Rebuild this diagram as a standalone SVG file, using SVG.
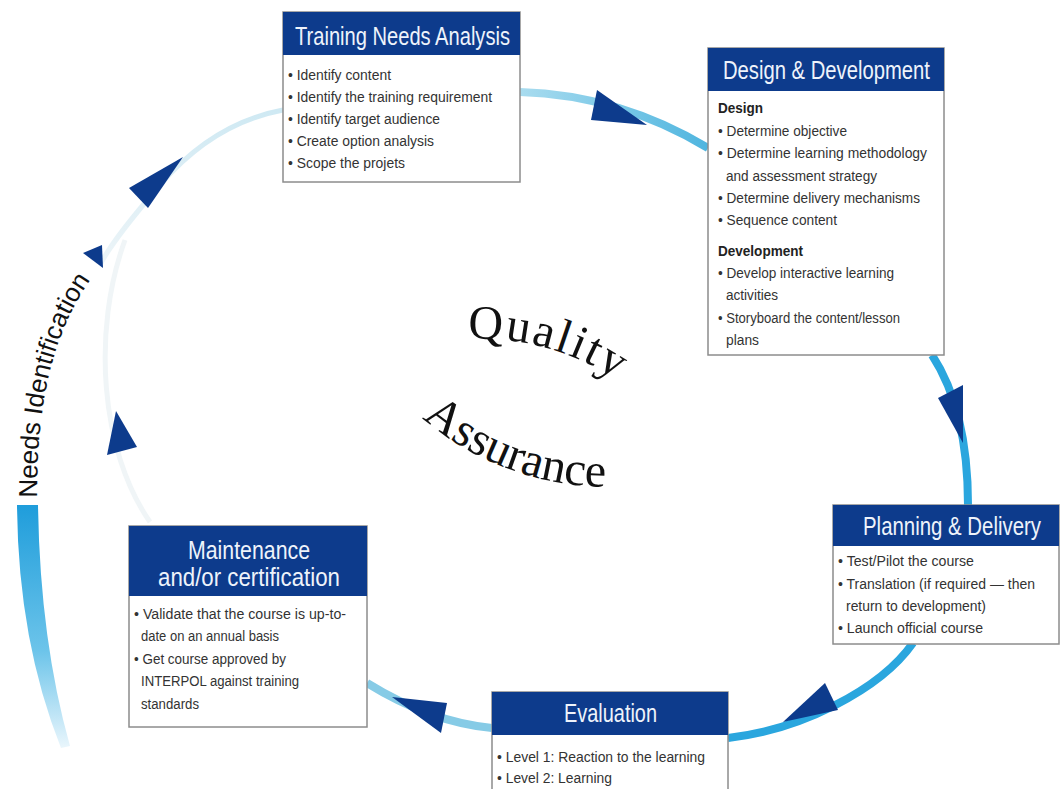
<svg xmlns="http://www.w3.org/2000/svg" width="1060" height="789" viewBox="0 0 1060 789">
<defs>
<style>
.box{fill:#ffffff;stroke:#8c8c8c;stroke-width:1.5}
.hdr{fill:#0d3b8c}
.ht{font-family:"Liberation Sans",Arial,sans-serif;fill:#eef3fb;font-size:25px}
.bt{font-family:"Liberation Sans",Arial,sans-serif;fill:#333333;font-size:15.5px}
.bb{font-family:"Liberation Sans",Arial,sans-serif;fill:#222222;font-size:15.5px;font-weight:bold}
.arr{fill:#0d3b8c}
.qa{font-family:"Liberation Serif","Times New Roman",serif;fill:#111;font-size:48px}
</style>
<linearGradient id="gTop" x1="520" y1="0" x2="708" y2="0" gradientUnits="userSpaceOnUse">
<stop offset="0" stop-color="#a9dcef"/><stop offset="1" stop-color="#4fb5df"/>
</linearGradient>
<linearGradient id="gBar" x1="0" y1="505" x2="0" y2="748" gradientUnits="userSpaceOnUse">
<stop offset="0" stop-color="#1f9ddb"/><stop offset="0.6" stop-color="#6cc4ea"/><stop offset="1" stop-color="#eaf6fc"/>
</linearGradient>
<linearGradient id="gFaint" x1="0" y1="110" x2="0" y2="270" gradientUnits="userSpaceOnUse">
<stop offset="0" stop-color="#cfe9f3"/><stop offset="1" stop-color="#eef5f8"/>
</linearGradient>
<path id="niPath" d="M 37,498 C 37,400 52,320 110,255"/>
<path id="qPath" d="M 468,339 A 250 250 0 0 1 660,416"/>
<path id="aPath" d="M 422,418 A 285 285 0 0 0 640,485"/>
</defs>
<rect width="1060" height="789" fill="#ffffff"/>

<g id="connectors">
<path d="M 283,110 C 230,120 190,150 160,185 C 130,220 110,245 100,265" fill="none" stroke="url(#gFaint)" stroke-width="5"/>
<path d="M 150,522 C 100,450 92,330 125,240" fill="none" stroke="#f0f5f7" stroke-width="5"/>
<path d="M 520,92 Q 620,95 708,148" fill="none" stroke="url(#gTop)" stroke-width="8"/>
<path d="M 932,355 Q 968,410 968,505" fill="none" stroke="#2aa6de" stroke-width="8"/>
<path d="M 913,643 C 880,690 800,730 728,738" fill="none" stroke="#2aa6de" stroke-width="8"/>
<path d="M 492,728 Q 430,722 367,683" fill="none" stroke="#86cbe6" stroke-width="8"/>
<path d="M 17,505 Q 18,640 61,748 L 70,746 Q 40,640 38,505 Z" fill="url(#gBar)"/>
<polygon class="arr" points="597,90 591,120 647,125"/>
<polygon class="arr" points="938,398 963,385 963,443"/>
<polygon class="arr" points="825,683 838,710 783,722"/>
<polygon class="arr" points="392,697 447,703 441,733"/>
<polygon class="arr" points="116,411 107,455 137,447"/>
<polygon class="arr" points="183,157 129,188 148,208"/>
<polygon class="arr" points="102,245 83,253 103,268"/>
<text font-family="'Liberation Sans',Arial,sans-serif" font-size="26" fill="#111"><textPath href="#niPath">Needs Identification</textPath></text>
</g>

<g id="qa-label">
<text class="qa" letter-spacing="2"><textPath href="#qPath">Quality</textPath></text>
<text class="qa"><textPath href="#aPath">Assurance</textPath></text>
</g>

<g id="training-needs-analysis">
<rect class="box" x="283" y="12" width="237" height="170"/>
<rect class="hdr" x="283" y="12" width="237" height="43"/>
<text class="ht" x="295" y="45" font-size="26" textLength="215" lengthAdjust="spacingAndGlyphs">Training Needs Analysis</text>
<text class="bt" x="288" y="80" textLength="103" lengthAdjust="spacingAndGlyphs">• Identify content</text>
<text class="bt" x="288" y="102" textLength="204" lengthAdjust="spacingAndGlyphs">• Identify the training requirement</text>
<text class="bt" x="288" y="124" textLength="152" lengthAdjust="spacingAndGlyphs">• Identify target audience</text>
<text class="bt" x="288" y="146" textLength="146" lengthAdjust="spacingAndGlyphs">• Create option analysis</text>
<text class="bt" x="288" y="168" textLength="117" lengthAdjust="spacingAndGlyphs">• Scope the projets</text>
</g>

<g id="design-development">
<rect class="box" x="708" y="48" width="236" height="307"/>
<rect class="hdr" x="708" y="48" width="236" height="43"/>
<text class="ht" x="723" y="79" textLength="207" lengthAdjust="spacingAndGlyphs">Design &amp; Development</text>
<text class="bb" x="718" y="113" textLength="45" lengthAdjust="spacingAndGlyphs">Design</text>
<text class="bt" x="718" y="136" textLength="129" lengthAdjust="spacingAndGlyphs">• Determine objective</text>
<text class="bt" x="718" y="158" textLength="209" lengthAdjust="spacingAndGlyphs">• Determine learning methodology</text>
<text class="bt" x="726" y="181" textLength="151" lengthAdjust="spacingAndGlyphs">and assessment strategy</text>
<text class="bt" x="718" y="203" textLength="202" lengthAdjust="spacingAndGlyphs">• Determine delivery mechanisms</text>
<text class="bt" x="718" y="225" textLength="119" lengthAdjust="spacingAndGlyphs">• Sequence content</text>
<text class="bb" x="718" y="256" textLength="85" lengthAdjust="spacingAndGlyphs">Development</text>
<text class="bt" x="718" y="278" textLength="176" lengthAdjust="spacingAndGlyphs">• Develop interactive learning</text>
<text class="bt" x="726" y="300" textLength="52" lengthAdjust="spacingAndGlyphs">activities</text>
<text class="bt" x="718" y="323" textLength="182" lengthAdjust="spacingAndGlyphs">• Storyboard the content/lesson</text>
<text class="bt" x="726" y="345" textLength="33" lengthAdjust="spacingAndGlyphs">plans</text>
</g>

<g id="planning-delivery">
<rect class="box" x="833" y="505" width="226" height="139"/>
<rect class="hdr" x="833" y="505" width="226" height="41"/>
<text class="ht" x="863" y="535" textLength="178" lengthAdjust="spacingAndGlyphs">Planning &amp; Delivery</text>
<text class="bt" x="838" y="566" textLength="136" lengthAdjust="spacingAndGlyphs">• Test/Pilot the course</text>
<text class="bt" x="838" y="589" textLength="197" lengthAdjust="spacingAndGlyphs">• Translation (if required — then</text>
<text class="bt" x="846" y="611" textLength="140" lengthAdjust="spacingAndGlyphs">return to development)</text>
<text class="bt" x="838" y="633" textLength="145" lengthAdjust="spacingAndGlyphs">• Launch official course</text>
</g>

<g id="evaluation">
<rect class="box" x="492" y="692" width="236" height="110"/>
<rect class="hdr" x="492" y="692" width="236" height="43"/>
<text class="ht" x="564" y="722" font-size="24" textLength="93" lengthAdjust="spacingAndGlyphs">Evaluation</text>
<text class="bt" x="497" y="762" textLength="208" lengthAdjust="spacingAndGlyphs">• Level 1: Reaction to the learning</text>
<text class="bt" x="497" y="783" textLength="115" lengthAdjust="spacingAndGlyphs">• Level 2: Learning</text>
</g>

<g id="maintenance-certification">
<rect class="box" x="129" y="526" width="238" height="201"/>
<rect class="hdr" x="129" y="526" width="238" height="70"/>
<text class="ht" x="188" y="559" textLength="122" lengthAdjust="spacingAndGlyphs">Maintenance</text>
<text class="ht" x="158" y="586" textLength="182" lengthAdjust="spacingAndGlyphs">and/or certification</text>
<text class="bt" x="134" y="619" textLength="212" lengthAdjust="spacingAndGlyphs">• Validate that the course is up-to-</text>
<text class="bt" x="141" y="641" textLength="138" lengthAdjust="spacingAndGlyphs">date on an annual basis</text>
<text class="bt" x="134" y="664" textLength="152" lengthAdjust="spacingAndGlyphs">• Get course approved by</text>
<text class="bt" x="141" y="686" textLength="158" lengthAdjust="spacingAndGlyphs">INTERPOL against training</text>
<text class="bt" x="141" y="709" textLength="58" lengthAdjust="spacingAndGlyphs">standards</text>
</g>
</svg>
